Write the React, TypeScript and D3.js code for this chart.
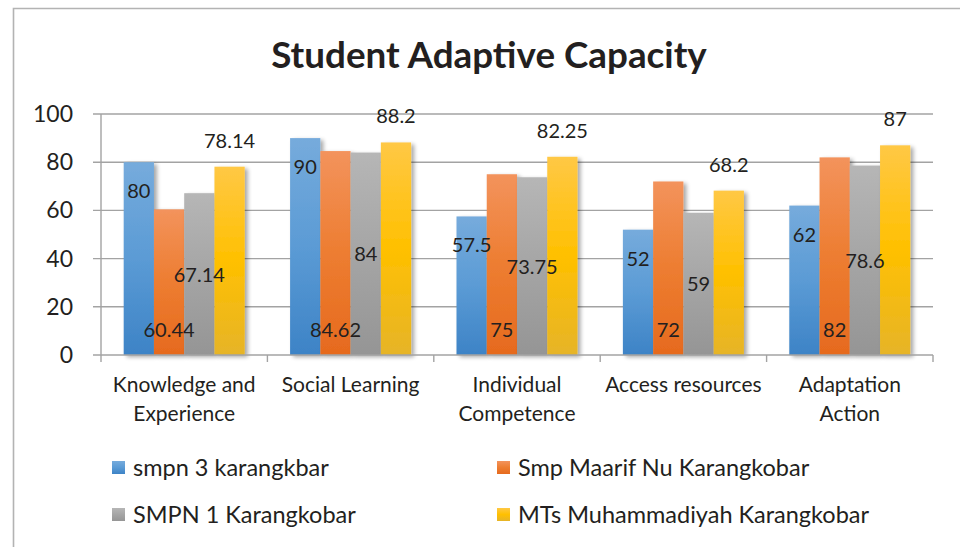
import React from "react";
import * as d3 from "d3";

const categories = [
  ["Knowledge and", "Experience"],
  ["Social Learning"],
  ["Individual", "Competence"],
  ["Access resources"],
  ["Adaptation", "Action"],
];
const seriesNames = [
  "smpn 3 karangkbar",
  "Smp Maarif Nu Karangkobar",
  "SMPN 1 Karangkobar",
  "MTs Muhammadiyah Karangkobar",
];
const smpn3 = [80, 90, 57.5, 52, 62];
const maarif = [60.44, 84.62, 75, 72, 82];
const smpn1 = [67.14, 84, 73.75, 59, 78.6];
const mts = [78.14, 88.2, 82.25, 68.2, 87];
const yTicks = [0, 20, 40, 60, 80, 100];

const seriesValues = [smpn3, maarif, smpn1, mts];
const gradients = [
  ["#76abdc", "#5b9bd5", "#3d83c6"],
  ["#f3935c", "#ed7d31", "#e66a1e"],
  ["#b6b6b6", "#a5a5a5", "#959595"],
  ["#ffc845", "#ffc000", "#e6b428"],
];
// label placement per series: inside end, inside base, center, outside end
const labelModes = ["insideEnd", "insideBase", "center", "outsideEnd"];

const FONT = "Lato, 'Open Sans', sans-serif";

export default function App() {
  const W = 960;
  const H = 547;
  const left = 101;
  const right = 933;
  const top = 114;
  const bottom = 355;

  const y = d3.scaleLinear().domain([0, 100]).range([bottom, top]);
  const x = d3
    .scaleBand<number>()
    .domain(d3.range(categories.length))
    .range([left, right])
    .padding(0);
  const bw = x.bandwidth();
  const gap = (bw * 1.5) / 5.5;
  const xs = d3
    .scaleBand<number>()
    .domain(d3.range(seriesValues.length))
    .range([gap / 2, bw - gap / 2])
    .padding(0);

  const gridColor = "#a3a3a3";

  return (
    <svg
      width={W}
      height={H}
      style={{ position: "absolute", left: 0, top: 0, background: "#fff" }}
      fontFamily={FONT}
    >
      <defs>
        {gradients.map((g, i) => (
          <linearGradient key={i} id={`g${i}`} x1="0" y1="0" x2="0" y2="1">
            <stop offset="0%" stopColor={g[0]} />
            <stop offset="50%" stopColor={g[1]} />
            <stop offset="100%" stopColor={g[2]} />
          </linearGradient>
        ))}
        <filter id="shadow" x="-20%" y="-10%" width="150%" height="130%">
          <feGaussianBlur in="SourceAlpha" stdDeviation="2.2" />
          <feOffset dx="2.5" dy="1.5" result="b" />
          <feComponentTransfer>
            <feFuncA type="linear" slope="0.35" />
          </feComponentTransfer>
          <feMerge>
            <feMergeNode />
            <feMergeNode in="SourceGraphic" />
          </feMerge>
        </filter>
      </defs>

      {/* frame */}
      <path d={`M13.5,${H} L13.5,8.5 L${W},8.5`} fill="none" stroke="#b3b3b3" strokeWidth={1.6} />

      {/* title */}
      <text x={489} y={68} textAnchor="middle" fontSize={36.8} fontWeight="bold" fill="#231f20">
        Student Adaptive Capacity
      </text>

      {/* gridlines */}
      {yTicks.map((t) => (
        <g key={t}>
          {t > 0 && (
            <line x1={left - 8} x2={right} y1={y(t)} y2={y(t)} stroke={gridColor} strokeWidth={1.4} />
          )}
          <text
            x={73}
            y={y(t) + 8}
            textAnchor="end"
            fontSize={23}
            fill="#231f20"
          >
            {t}
          </text>
        </g>
      ))}

      {/* bars */}
      {seriesValues.map((vals, s) => (
        <g key={s} filter="url(#shadow)">
          {vals.map((v, c) => (
            <rect
              key={c}
              x={(x(c) as number) + (xs(s) as number)}
              y={y(v)}
              width={xs.bandwidth()}
              height={bottom - y(v)}
              fill={`url(#g${s})`}
            />
          ))}
        </g>
      ))}

      {/* axes */}
      <line x1={left} x2={left} y1={top} y2={bottom} stroke={gridColor} strokeWidth={1.4} />
      <line x1={left - 8} x2={right} y1={bottom} y2={bottom} stroke={gridColor} strokeWidth={1.6} />
      {d3.range(categories.length + 1).map((i) => {
        const xx = left + i * bw;
        return <line key={i} x1={xx} x2={xx} y1={bottom} y2={bottom + 7} stroke={gridColor} strokeWidth={1.4} />;
      })}

      {/* labels */}
      {seriesValues.map((vals, s) =>
        vals.map((v, c) => {
          const cx = (x(c) as number) + (xs(s) as number) + xs.bandwidth() / 2;
          const mode = labelModes[s];
          let by = 0;
          if (mode === "insideEnd") by = y(v) + 36;
          else if (mode === "insideBase") by = bottom - 18;
          else if (mode === "center") by = (y(v) + bottom) / 2 + 7.5;
          else by = y(v) - 19;
          return (
            <text key={`${s}-${c}`} x={cx} y={by} textAnchor="middle" fontSize={20} fill="#231f20">
              {v}
            </text>
          );
        })
      )}

      {/* category labels */}
      {categories.map((lines, c) => (
        <text
          key={c}
          x={(x(c) as number) + bw / 2}
          textAnchor="middle"
          fontSize={21}
          fill="#231f20"
        >
          {lines.map((ln, i) => (
            <tspan key={i} x={(x(c) as number) + bw / 2} y={392 + i * 29}>
              {ln}
            </tspan>
          ))}
        </text>
      ))}

      {/* legend */}
      {seriesNames.map((name, i) => {
        const col = i % 2;
        const row = Math.floor(i / 2);
        const sx = col === 0 ? 112 : 497;
        const sy = row === 0 ? 461 : 508;
        return (
          <g key={i}>
            <rect x={sx} y={sy} width={13} height={13} fill={`url(#g${i})`} />
            <text x={sx + 21} y={sy + 14.5} fontSize={23.5} fill="#231f20">
              {name}
            </text>
          </g>
        );
      })}
    </svg>
  );
}
